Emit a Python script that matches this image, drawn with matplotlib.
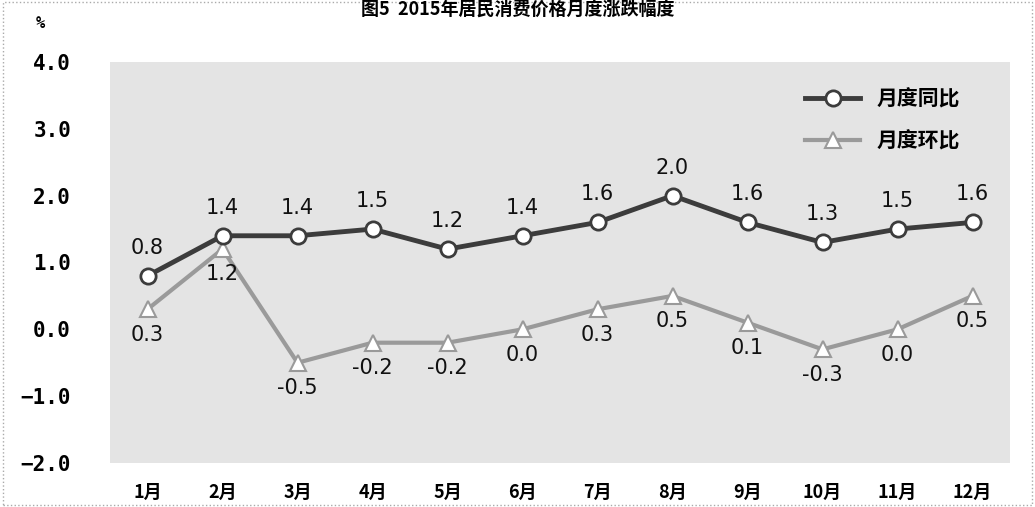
import matplotlib.pyplot as plt
import numpy as np

plt.rcParams['font.family'] = ['Noto Sans CJK SC', 'DejaVu Sans']

months = ['1月', '2月', '3月', '4月', '5月', '6月', '7月', '8月', '9月', '10月', '11月', '12月']
yoy = [0.8, 1.4, 1.4, 1.5, 1.2, 1.4, 1.6, 2.0, 1.6, 1.3, 1.5, 1.6]
mom = [0.3, 1.2, -0.5, -0.2, -0.2, 0.0, 0.3, 0.5, 0.1, -0.3, 0.0, 0.5]
yticks = [-2.0, -1.0, 0.0, 1.0, 2.0, 3.0, 4.0]

fig = plt.figure(figsize=(10.35, 5.07), dpi=100)
ax = fig.add_axes([110 / 1035, 1 - 463 / 507, 900 / 1035, 401 / 507])
ax.set_facecolor('#e4e4e4')

x = np.arange(len(months))
ax.plot(x, yoy, color='#3c3c3c', lw=3.5, marker='o', ms=11,
        mfc='white', mec='#3c3c3c', mew=2, label='月度同比', zorder=3)
ax.plot(x, mom, color='#9a9a9a', lw=3, marker='^', ms=11,
        mfc='white', mec='#9a9a9a', mew=1.5, label='月度环比', zorder=2)

for i, v in enumerate(yoy):
    ax.annotate(f'{v:.1f}', (x[i], v), xytext=(0, 13), textcoords='offset points',
                ha='center', va='bottom', fontsize=15, family='DejaVu Sans', color='#111111')
for i, v in enumerate(mom):
    ax.annotate(f'{v:.1f}', (x[i], v), xytext=(0, -11), textcoords='offset points',
                ha='center', va='top', fontsize=15, family='DejaVu Sans', color='#111111')

ax.set_xlim(-0.5, len(months) - 0.5)
ax.set_ylim(-2.0, 4.0)
ax.set_yticks(yticks)
ax.set_yticklabels([f'{t:.1f}'.replace('-', '−') for t in yticks],
                   family='DejaVu Sans Mono', fontweight='bold', fontsize=15)
ax.set_xticks(x)
ax.set_xticklabels(months, fontsize=13, fontweight='bold')
ax.tick_params(axis='y', length=0, pad=28)
ax.tick_params(axis='x', length=0, pad=14)
for s in ax.spines.values():
    s.set_visible(False)

ax.legend(loc='upper right', bbox_to_anchor=(0.965, 0.98), frameon=False,
          handlelength=2.6, labelspacing=1.0,
          prop={'family': ['Noto Sans CJK SC'], 'size': 15, 'weight': 'bold'})

fig.text(40 / 1035, 1 - 24 / 507, '%', fontsize=11, fontweight='bold',
         ha='center', va='center', family='DejaVu Sans Mono')
fig.text(0.5, 1 - 1 / 507, '图5  2015年居民消费价格月度涨跌幅度', fontsize=13,
         fontweight='bold', ha='center', va='top')

border = plt.Rectangle((0.003, 0.003), 0.994, 0.994, transform=fig.transFigure,
                       fill=False, ls=':', lw=1, ec='#aaaaaa')
fig.patches.append(border)

fig.savefig('out.png', dpi=100)
